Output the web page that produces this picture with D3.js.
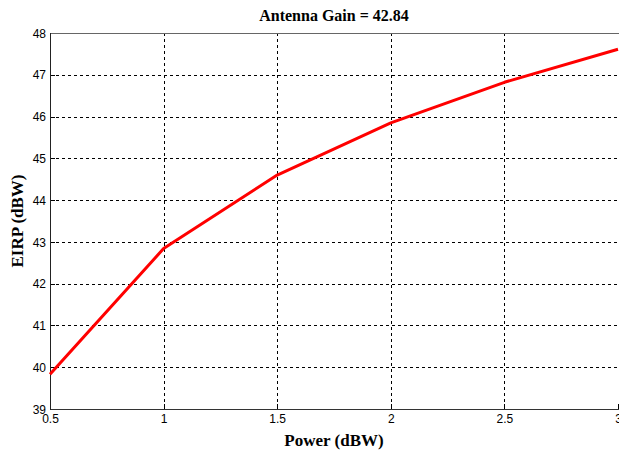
<!DOCTYPE html>
<html>
<head>
<meta charset="utf-8">
<script src="https://cdn.jsdelivr.net/npm/d3@7"></script>
<style>
  html, body { margin: 0; padding: 0; background: #fff; }
  svg { display: block; }
</style>
</head>
<body>
<svg id="chart" width="619" height="453"></svg>
<script>
// Transmit power (dBW) and resulting EIRP (dBW) for a 42.84 dBi antenna
const power = [0.5, 1, 1.5, 2, 2.5, 3];
const eirp = [39.83, 42.84, 44.60, 45.85, 46.82, 47.61];
const xTicks = [0.5, 1, 1.5, 2, 2.5, 3];
const yTicks = [39, 40, 41, 42, 43, 44, 45, 46, 47, 48];
const titleText = "Antenna Gain = 42.84";
const xLabel = "Power (dBW)";
const yLabel = "EIRP (dBW)";

const svg = d3.select("#chart");
const m = { left: 50, top: 33, right: 618, bottom: 409 };

const x = d3.scaleLinear().domain([0.5, 3]).range([m.left, m.right]);
const y = d3.scaleLinear().domain([39, 48]).range([m.bottom, m.top]);

svg.append("rect")
  .attr("x", m.left).attr("y", m.top)
  .attr("width", m.right - m.left).attr("height", m.bottom - m.top)
  .attr("fill", "#fff");

// dotted grid
const grid = svg.append("g").attr("stroke", "#000").attr("stroke-width", 1)
  .attr("stroke-dasharray", "3,3").attr("shape-rendering", "crispEdges");
grid.selectAll(".gx").data(xTicks.slice(1, -1)).join("line")
  .attr("x1", d => Math.round(x(d)) + 0.5).attr("x2", d => Math.round(x(d)) + 0.5)
  .attr("y1", m.top).attr("y2", m.bottom);
grid.selectAll(".gy").data(yTicks.slice(1, -1)).join("line")
  .attr("y1", d => Math.round(y(d)) + 0.5).attr("y2", d => Math.round(y(d)) + 0.5)
  .attr("x1", m.left).attr("x2", m.right);

// axes
const xAxis = d3.axisBottom(x).tickValues(xTicks).tickSize(0).tickPadding(5)
  .tickFormat(d3.format("~g"));
const yAxis = d3.axisLeft(y).tickValues(yTicks).tickSize(0).tickPadding(4)
  .tickFormat(d3.format("d"));

const gx = svg.append("g").attr("transform", `translate(0,${m.bottom})`).call(xAxis);
const gy = svg.append("g").attr("transform", `translate(${m.left},0)`).call(yAxis);
[gx, gy].forEach(g => {
  g.select(".domain").remove();
  g.selectAll("text").attr("font-family", "Arial, 'Liberation Sans', sans-serif")
    .attr("font-size", 12).attr("fill", "#000");
});
gy.selectAll("text").attr("dy", "0.35em");

// inward tick marks
const ticks = svg.append("g").attr("stroke", "#000").attr("shape-rendering", "crispEdges");
ticks.selectAll(".tx").data(xTicks).join("line")
  .attr("x1", d => Math.round(x(d)) + 0.5).attr("x2", d => Math.round(x(d)) + 0.5)
  .attr("y1", m.bottom).attr("y2", m.bottom - 5);
ticks.selectAll(".ty").data(yTicks).join("line")
  .attr("y1", d => Math.round(y(d)) + 0.5).attr("y2", d => Math.round(y(d)) + 0.5)
  .attr("x1", m.left).attr("x2", m.left + 5);

// frame
const frame = svg.append("g").attr("fill", "none").attr("shape-rendering", "crispEdges");
frame.append("line").attr("x1", m.left).attr("x2", m.right + 2)
  .attr("y1", m.top + 0.5).attr("y2", m.top + 0.5).attr("stroke", "#666").attr("stroke-width", 1.5);
frame.append("line").attr("x1", m.left).attr("x2", m.right + 2)
  .attr("y1", m.bottom + 0.5).attr("y2", m.bottom + 0.5).attr("stroke", "#333").attr("stroke-width", 1.2);
frame.append("line").attr("x1", m.left + 0.5).attr("x2", m.left + 0.5)
  .attr("y1", m.top).attr("y2", m.bottom + 1).attr("stroke", "#222").attr("stroke-width", 1.2);

// EIRP curve
const line = d3.line().x((d, i) => x(power[i])).y(d => y(d));
svg.append("path").datum(eirp)
  .attr("d", line)
  .attr("fill", "none").attr("stroke", "#ff0000").attr("stroke-width", 3)
  .attr("stroke-linejoin", "round");

// labels
const serif = "'Times New Roman', 'Liberation Serif', serif";
svg.append("text").attr("x", 334).attr("y", 21).attr("text-anchor", "middle")
  .attr("font-family", serif).attr("font-weight", "bold").attr("font-size", 16)
  .text(titleText);
svg.append("text").attr("x", 334).attr("y", 446).attr("text-anchor", "middle")
  .attr("font-family", serif).attr("font-weight", "bold").attr("font-size", 17)
  .text(xLabel);
svg.append("text").attr("transform", "translate(23,221) rotate(-90)")
  .attr("text-anchor", "middle")
  .attr("font-family", serif).attr("font-weight", "bold").attr("font-size", 17)
  .text(yLabel);
</script>
</body>
</html>
